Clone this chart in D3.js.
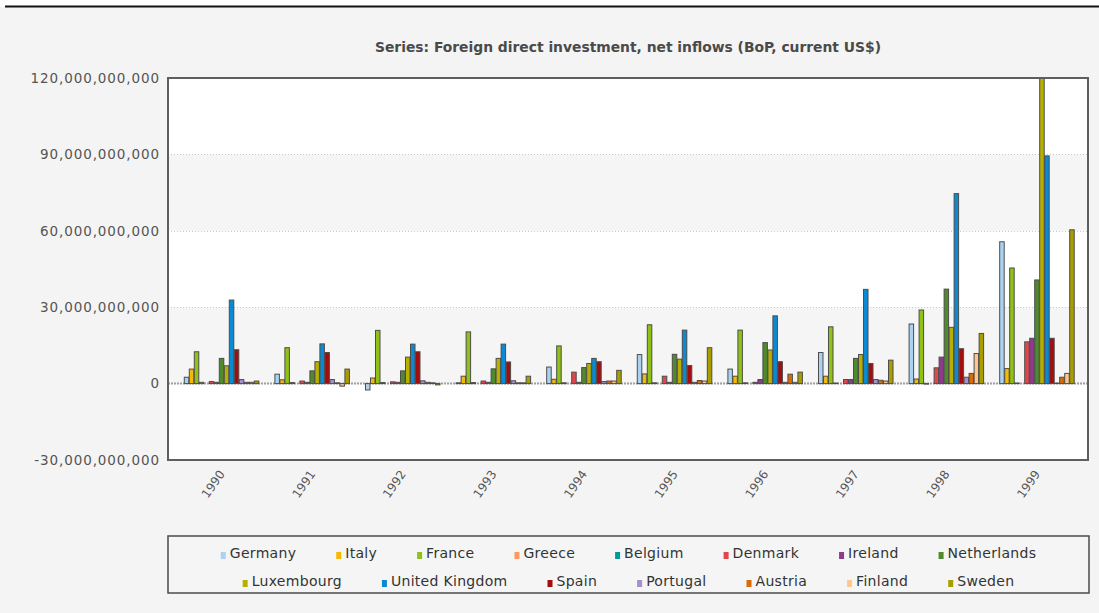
<!DOCTYPE html>
<html>
<head>
<meta charset="utf-8">
<script src="https://cdn.jsdelivr.net/npm/d3@7"></script>
<style>
  html, body { margin: 0; padding: 0; background: #ffffff; }
  svg { display: block; }
</style>
</head>
<body>
<svg id="chart" width="1099" height="613"></svg>
<script>
// Foreign direct investment, net inflows (BoP, current US$), in billions of US$
const years = ["1990", "1991", "1992", "1993", "1994", "1995", "1996", "1997", "1998", "1999"];
const countries = ["Germany", "Italy", "France", "Greece", "Belgium", "Denmark", "Ireland", "Netherlands",
                   "Luxembourg", "United Kingdom", "Spain", "Portugal", "Austria", "Finland", "Sweden"];
const colors = ["#aad3f2", "#f6b800", "#8fc214", "#ff9a5c", "#009a9a", "#e2464b", "#8e3b8e", "#4f8a2c",
                "#b8b000", "#0a8ad2", "#a30d0d", "#a58fcf", "#da6c08", "#ffc68e", "#aa9d00"];

const germany     = [2.5, 3.7, -2.5, 0.3, 6.5, 11.4, 5.7, 12.2, 23.4, 55.7];
const italy       = [5.7, 1.5, 2.2, 2.9, 1.7, 3.8, 2.9, 2.9, 1.8, 5.9];
const france      = [12.5, 14.1, 20.9, 20.3, 14.8, 23.1, 21.0, 22.3, 28.9, 45.4];
const greece      = [0.5, 0.4, 0.4, 0.4, 0.3, 0.3, 0.3, 0.2, 0.0, 0.2];
const belgium     = [null, null, null, null, null, null, null, null, null, null];
const denmark     = [0.8, 1.0, 0.7, 1.0, 4.5, 2.9, 0.5, 1.6, 6.2, 16.4];
const ireland     = [0.5, 0.5, 0.5, 0.5, 0.5, 0.5, 1.6, 1.6, 10.4, 17.8];
const netherlands = [9.9, 5.0, 5.0, 5.8, 6.3, 11.5, 16.1, 9.9, 37.1, 40.7];
const luxembourg  = [7.0, 8.6, 10.4, 9.9, 7.9, 9.6, 13.2, 11.4, 22.1, 120.0];
const unitedKingdom = [32.8, 15.6, 15.5, 15.5, 9.9, 21.0, 26.6, 37.0, 74.6, 89.4];
const spain       = [13.3, 12.2, 12.5, 8.5, 8.6, 7.1, 8.6, 7.9, 13.7, 17.8];
const portugal    = [1.6, 1.6, 1.1, 1.1, 0.8, 0.5, 0.5, 1.6, 2.5, 0.2];
const austria     = [0.5, 0.3, 0.5, 0.3, 1.0, 1.2, 3.7, 1.3, 4.0, 2.5];
const finland     = [0.5, -1.0, 0.3, 0.3, 1.0, 1.0, 0.5, 1.0, 11.8, 4.0];
const sweden      = [1.0, 5.7, -0.5, 2.9, 5.2, 14.1, 4.5, 9.2, 19.7, 60.4];

const seriesValues = [germany, italy, france, greece, belgium, denmark, ireland, netherlands,
                      luxembourg, unitedKingdom, spain, portugal, austria, finland, sweden];

const yTicks = [-30, 0, 30, 60, 90, 120];
const titleText = "Series: Foreign direct investment, net inflows (BoP, current US$)";

// ---------- layout ----------
const svg = d3.select("#chart");
const W = 1099, H = 613;
const plot = { left: 168, right: 1088, top: 78, bottom: 460 };

// page background and top rule
svg.append("rect").attr("x", 0).attr("y", 7).attr("width", W).attr("height", H - 7).attr("fill", "#f4f4f4");
svg.append("line").attr("x1", 5).attr("x2", W).attr("y1", 6.5).attr("y2", 6.5)
  .attr("stroke", "#111").attr("stroke-width", 2);

// title
svg.append("text")
  .attr("x", 628).attr("y", 52)
  .attr("text-anchor", "middle")
  .attr("font-family", "'DejaVu Sans Condensed', 'Liberation Sans Narrow', 'DejaVu Sans', sans-serif")
  .attr("font-size", 14).attr("font-weight", "bold")
  .attr("fill", "#4a4a4a")
  .attr("textLength", 506).attr("lengthAdjust", "spacingAndGlyphs")
  .text(titleText);

// scales
const y = d3.scaleLinear().domain([-30, 120]).range([plot.bottom, plot.top]);
const x0 = d3.scaleBand().domain(years).range([176, 1082]).paddingInner(0.172).paddingOuter(0.086);
const x1 = d3.scaleBand().domain(countries).range([0, x0.bandwidth()]);

// alternating plot bands
const bands = [[-30, 0, "#ffffff"], [0, 30, "#f5f5f5"], [30, 60, "#ffffff"], [60, 90, "#f5f5f5"], [90, 120, "#ffffff"]];
svg.append("g").selectAll("rect").data(bands).join("rect")
  .attr("x", plot.left).attr("width", plot.right - plot.left)
  .attr("y", d => y(d[1])).attr("height", d => y(d[0]) - y(d[1]))
  .attr("fill", d => d[2]);

// dotted grid lines
svg.append("g").selectAll("line").data([30, 60, 90]).join("line")
  .attr("x1", plot.left).attr("x2", plot.right)
  .attr("y1", d => Math.round(y(d)) + 0.5).attr("y2", d => Math.round(y(d)) + 0.5)
  .attr("stroke", "#c8c8c8").attr("stroke-width", 1).attr("stroke-dasharray", "1,2");

// bars
svg.append("clipPath").attr("id", "plotClip").append("rect")
  .attr("x", plot.left).attr("y", plot.top - 2).attr("width", plot.right - plot.left).attr("height", plot.bottom - plot.top + 2);

const barData = [];
years.forEach((yr, i) => {
  countries.forEach((c, j) => {
    const v = seriesValues[j][i];
    if (v !== null && v !== undefined) barData.push({ year: yr, country: c, value: v, color: colors[j] });
  });
});

// zero line (drawn under the bars)
svg.append("line")
  .attr("x1", plot.left).attr("x2", plot.right)
  .attr("y1", y(0)).attr("y2", y(0))
  .attr("stroke", "#a0a0a0").attr("stroke-width", 2).attr("stroke-dasharray", "2,1");

svg.append("g").attr("clip-path", "url(#plotClip)")
  .selectAll("rect").data(barData).join("rect")
  .attr("x", d => x0(d.year) + x1(d.country) + 0.5)
  .attr("width", x1.bandwidth() - 0.5)
  .attr("y", d => y(Math.max(0, d.value)))
  .attr("height", d => Math.max(0.5, Math.abs(y(d.value) - y(0))))
  .attr("fill", d => d.color)
  .attr("stroke", "#4d4d4d").attr("stroke-width", 1);

// plot frame
svg.append("rect")
  .attr("x", plot.left).attr("y", plot.top)
  .attr("width", plot.right - plot.left).attr("height", plot.bottom - plot.top)
  .attr("fill", "none").attr("stroke", "#5e5e5e").attr("stroke-width", 2);

// y axis labels (plain hyphen for negatives)
const fmt = d3.format(",");
const yAxis = d3.axisLeft(y).tickValues(yTicks).tickSize(0).tickPadding(8)
  .tickFormat(d => fmt(d * 1e9).replace("\u2212", "-"));
const gy = svg.append("g").attr("transform", `translate(${plot.left},0)`).call(yAxis);
gy.select(".domain").remove();
gy.selectAll("text")
  .attr("font-family", "'DejaVu Sans', Verdana, sans-serif")
  .attr("font-size", 13.5).attr("fill", "#555")
  .attr("letter-spacing", "0.9px");

// x axis labels
const xAxis = d3.axisBottom(x0).tickSize(0).tickPadding(0);
const gx = svg.append("g").attr("transform", `translate(0,${plot.bottom})`).call(xAxis);
gx.select(".domain").remove();
gx.selectAll("text")
  .attr("font-family", "'DejaVu Sans', Verdana, sans-serif")
  .attr("font-size", 12).attr("fill", "#555")
  .attr("text-anchor", "end")
  .attr("dy", null).attr("y", 0)
  .attr("transform", "translate(4,14) rotate(-55)");

// legend
const legend = { left: 168, right: 1089, top: 536, bottom: 593 };
svg.append("rect")
  .attr("x", legend.left).attr("y", legend.top)
  .attr("width", legend.right - legend.left).attr("height", legend.bottom - legend.top)
  .attr("fill", "#f5f5f5").attr("stroke", "#4a4a4a").attr("stroke-width", 1.5);

const rows = [countries.slice(0, 8), countries.slice(8)];
const rowY = [553, 581];
const gap = 40, markerW = 5, markerGap = 4;
const lg = svg.append("g");
rows.forEach((row, r) => {
  const items = row.map(name => {
    const g = lg.append("g");
    g.append("rect").attr("width", markerW).attr("height", 7).attr("y", -6)
      .attr("fill", colors[countries.indexOf(name)]);
    const t = g.append("text").attr("x", markerW + markerGap).attr("y", 0)
      .attr("font-family", "'DejaVu Sans', Verdana, sans-serif")
      .attr("font-size", 14).attr("fill", "#333").attr("letter-spacing", "0.3px")
      .text(name);
    return { g, w: markerW + markerGap + t.node().getComputedTextLength() };
  });
  const total = d3.sum(items, d => d.w) + gap * (items.length - 1);
  let cx = 628.5 - total / 2;
  items.forEach(it => {
    it.g.attr("transform", `translate(${cx},${rowY[r] + 5})`);
    cx += it.w + gap;
  });
});
</script>
</body>
</html>
